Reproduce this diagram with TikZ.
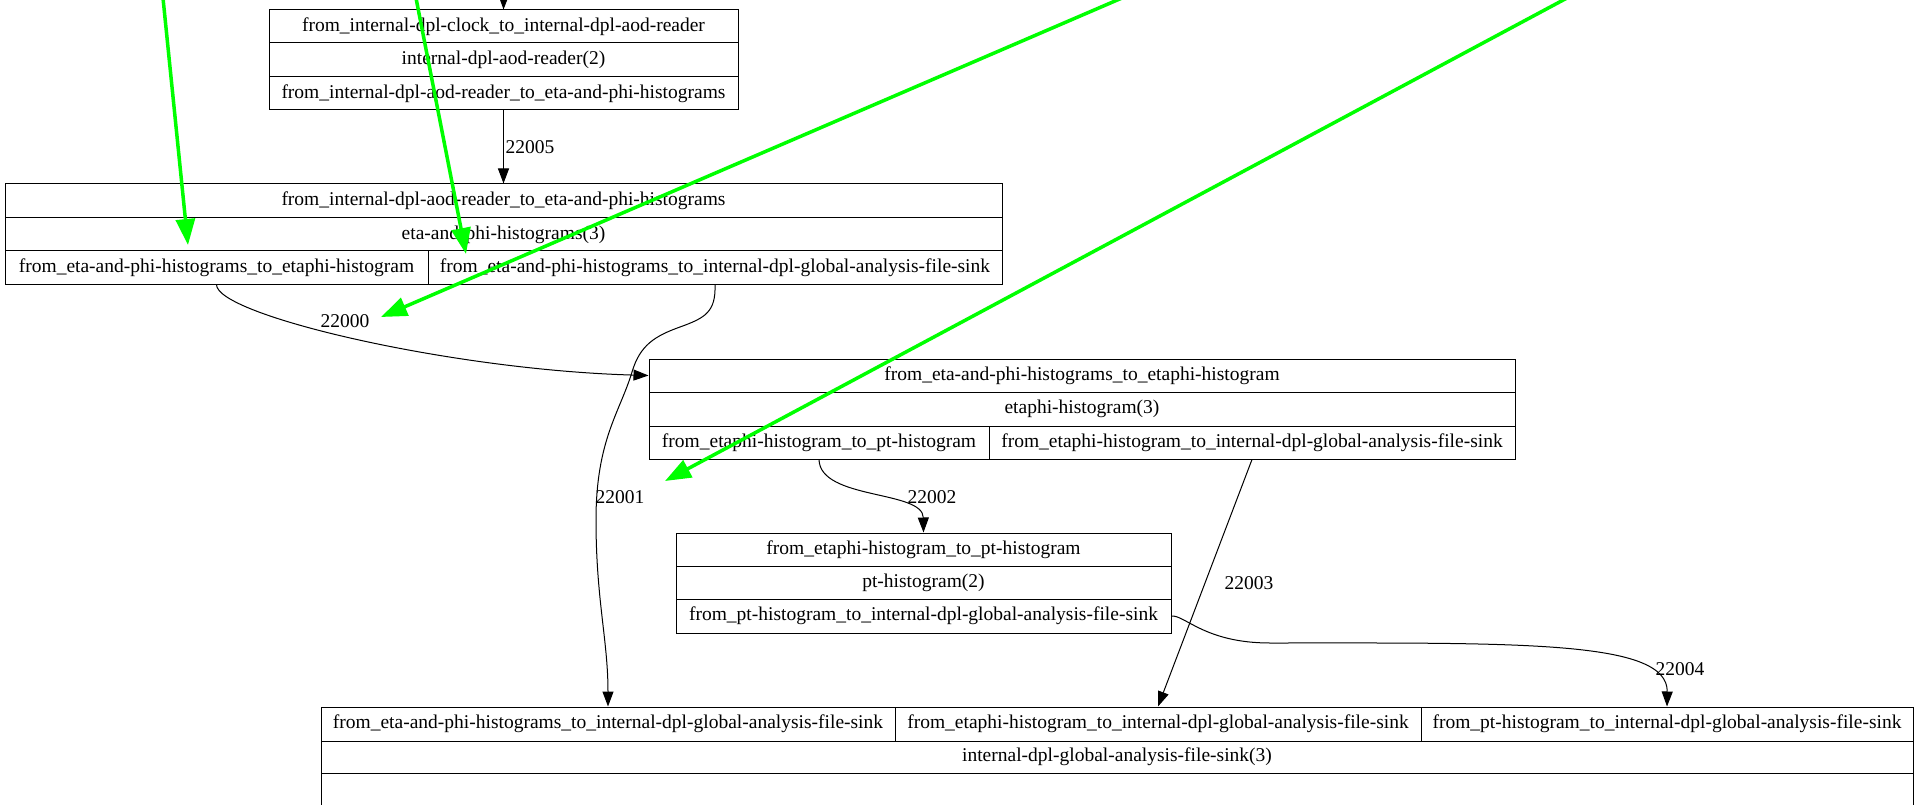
\documentclass[tikz,border=0pt]{standalone}
\usepackage{fontspec}
\setmainfont{Liberation Serif}
\usetikzlibrary{arrows.meta}
\definecolor{lime}{RGB}{0,255,0}
\begin{document}
\begin{tikzpicture}[x=1pt,y=-1pt,
  cell/.style={draw=black, line width=1pt, inner sep=0pt, font=\fontsize{19.5}{23}\selectfont},
  lbl/.style={inner sep=0pt, font=\fontsize{19.5}{23}\selectfont},
  edge/.style={draw=black, line width=1pt, -{Triangle[length=15pt,width=11pt]}},
  greenarrow/.style={draw=lime, line width=3.5pt, -{Triangle[length=26pt,width=19pt]}}
]
\fill[white] (0,0) rectangle (1917,805);
\clip (0,0) rectangle (1917,805);

% internal-dpl-aod-reader
\node[cell, minimum width=469pt, minimum height=33pt] (rd1) at (503.5,26.5) {from\_internal-dpl-clock\_to\_internal-dpl-aod-reader};
\node[cell, minimum width=469pt, minimum height=34pt] (rd2) at (503.5,60) {internal-dpl-aod-reader(2)};
\node[cell, minimum width=469pt, minimum height=33pt] (rd3) at (503.5,93.5) {from\_internal-dpl-aod-reader\_to\_eta-and-phi-histograms};

% eta-and-phi-histograms
\node[cell, minimum width=997pt, minimum height=34pt] (eh1) at (503.5,201) {from\_internal-dpl-aod-reader\_to\_eta-and-phi-histograms};
\node[cell, minimum width=997pt, minimum height=33pt] (eh2) at (503.5,234.5) {eta-and-phi-histograms(3)};
\node[cell, minimum width=423pt, minimum height=33pt] (eh3a) at (216.5,267.5) {from\_eta-and-phi-histograms\_to\_etaphi-histogram};
\node[cell, minimum width=574pt, minimum height=33pt] (eh3b) at (715,267.5) {from\_eta-and-phi-histograms\_to\_internal-dpl-global-analysis-file-sink};

% etaphi-histogram
\node[cell, minimum width=866pt, minimum height=33pt] (ep1) at (1082,375.5) {from\_eta-and-phi-histograms\_to\_etaphi-histogram};
\node[cell, minimum width=866pt, minimum height=34pt] (ep2) at (1082,409) {etaphi-histogram(3)};
\node[cell, minimum width=340pt, minimum height=33pt] (ep3a) at (819,442.5) {from\_etaphi-histogram\_to\_pt-histogram};
\node[cell, minimum width=526pt, minimum height=33pt] (ep3b) at (1252,442.5) {from\_etaphi-histogram\_to\_internal-dpl-global-analysis-file-sink};

% pt-histogram
\node[cell, minimum width=495pt, minimum height=33pt] (pt1) at (923.5,549.5) {from\_etaphi-histogram\_to\_pt-histogram};
\node[cell, minimum width=495pt, minimum height=33pt] (pt2) at (923.5,582.5) {pt-histogram(2)};
\node[cell, minimum width=495pt, minimum height=34pt] (pt3) at (923.5,616) {from\_pt-histogram\_to\_internal-dpl-global-analysis-file-sink};

% internal-dpl-global-analysis-file-sink
\node[cell, minimum width=574pt, minimum height=34pt] (sk1a) at (608,724) {from\_eta-and-phi-histograms\_to\_internal-dpl-global-analysis-file-sink};
\node[cell, minimum width=526pt, minimum height=34pt] (sk1b) at (1158,724) {from\_etaphi-histogram\_to\_internal-dpl-global-analysis-file-sink};
\node[cell, minimum width=492pt, minimum height=34pt] (sk1c) at (1667,724) {from\_pt-histogram\_to\_internal-dpl-global-analysis-file-sink};
\node[cell, minimum width=1592pt, minimum height=32pt] (sk2) at (1117,757) {internal-dpl-global-analysis-file-sink(3)};
\node[cell, minimum width=1592pt, minimum height=67pt] (sk3) at (1117,806.5) {};

% edges
\coordinate (topin) at (504,-30);
\draw[edge] (topin) -- (rd1.north);
\draw[edge] (rd3.south) -- (eh1.north);
\node[lbl] (l22005) at (530,147) {22005};

\draw[edge] (eh3a.south) .. controls (216,315) and (450,370) .. (ep1.west);
\node[lbl] (l22000) at (345,321) {22000};

\draw[edge] (eh3b.south) .. controls (716,312) and (705,318) .. (680,327)
  .. controls (655,336) and (640,345) .. (632,372)
  .. controls (620,412) and (596,440) .. (596,520)
  .. controls (596,600) and (608,640) .. (sk1a.north);
\node[lbl] (l22001) at (620,497) {22001};

\draw[edge] (ep3a.south) .. controls (820,500) and (923,490) .. (pt1.north);
\node[lbl] (l22002) at (932,497) {22002};

\draw[edge] (ep3b.south) -- (sk1b.north);
\node[lbl] (l22003) at (1249,583) {22003};

\draw[edge] (pt3.east) .. controls (1185,615) and (1205,643) .. (1270,643)
  .. controls (1520,643) and (1668,640) .. (sk1c.north);
\node[lbl] (l22004) at (1680,669) {22004};

% green overlay arrows
\coordinate (g1s) at (163,-2);
\coordinate (g1e) at (188,245);
\coordinate (g2s) at (416,-2);
\coordinate (g2e) at (466,254);
\coordinate (g3s) at (1122,-2);
\coordinate (g3e) at (381,317);
\coordinate (g4s) at (1567,-2);
\coordinate (g4e) at (665,481);
\draw[greenarrow] (g1s) -- (g1e);
\draw[greenarrow] (g2s) -- (g2e);
\draw[greenarrow] (g3s) -- (g3e);
\draw[greenarrow] (g4s) -- (g4e);
\end{tikzpicture}
\end{document}
